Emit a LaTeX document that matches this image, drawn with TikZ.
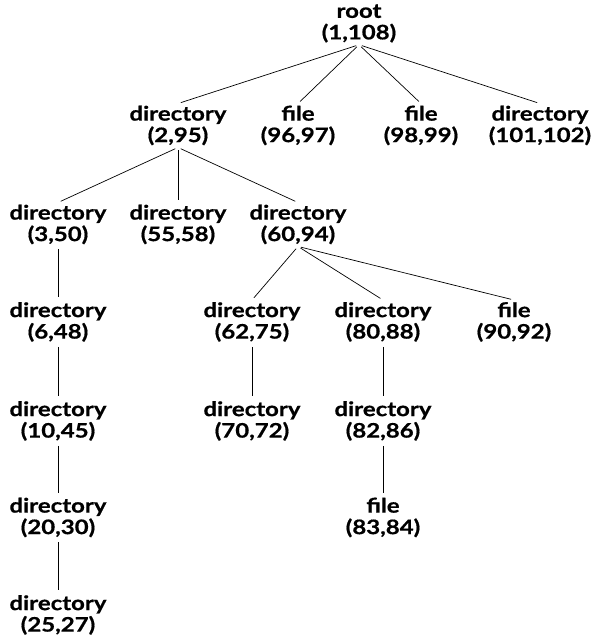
\documentclass[tikz,border=0pt]{standalone}
\usepackage{fontspec}
\newfontfamily\gill{Lato}[FakeStretch=1.2,BoldFeatures={FakeBold=0.6}]
\begin{document}
\begin{tikzpicture}[x=1pt,y=-1pt,
  fs/.style={align=center,inner sep=2pt,font=\gill\bfseries\fontsize{20}{21.5}\selectfont},
  edge/.style={draw=black,line width=0.7pt,shorten <=3pt,shorten >=3pt}]
\useasboundingbox[fill=white] (0,0) rectangle (590,642);
\node[fs] (r) at (359,23.5) {root\\(1,108)};
\node[fs] (a) at (178,125.5) {directory\\(2,95)};
\node[fs] (b) at (298,125.5) {file\\(96,97)};
\node[fs] (c) at (421,125.5) {file\\(98,99)};
\node[fs] (d) at (540,125.5) {directory\\(101,102)};
\node[fs] (a1) at (58,224.5) {directory\\(3,50)};
\node[fs] (a2) at (178,224.5) {directory\\(55,58)};
\node[fs] (a3) at (298,224.5) {directory\\(60,94)};
\node[fs] (a11) at (58,322) {directory\\(6,48)};
\node[fs] (a31) at (252,322) {directory\\(62,75)};
\node[fs] (a32) at (383,322) {directory\\(80,88)};
\node[fs] (a33) at (514,322) {file\\(90,92)};
\node[fs] (a111) at (58,421) {directory\\(10,45)};
\node[fs] (a311) at (252,421) {directory\\(70,72)};
\node[fs] (a321) at (383,421) {directory\\(82,86)};
\node[fs] (a1111) at (58,517.5) {directory\\(20,30)};
\node[fs] (a3211) at (383,517.5) {file\\(83,84)};
\node[fs] (a11111) at (58,615) {directory\\(25,27)};
\foreach \p/\c in {r/a,r/b,r/c,r/d,a/a1,a/a2,a/a3,a1/a11,a3/a31,a3/a32,a3/a33,a11/a111,a31/a311,a32/a321,a111/a1111,a321/a3211,a1111/a11111}
  \draw[edge] (\p.south) -- (\c.north);
\end{tikzpicture}
\end{document}
